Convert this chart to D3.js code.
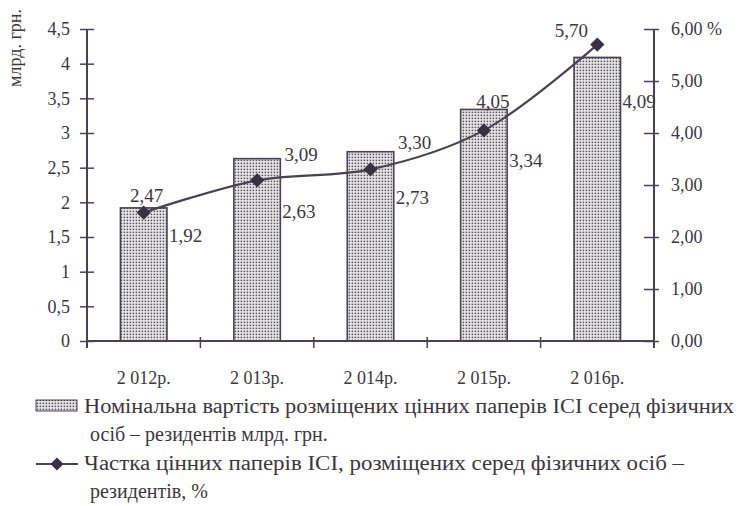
<!DOCTYPE html>
<html>
<head>
<meta charset="utf-8">
<script src="https://cdn.jsdelivr.net/npm/d3@7"></script>
<style>
  body { margin: 0; background: #fff; }
  svg text { font-family: "Liberation Serif", "DejaVu Serif", serif; }
</style>
</head>
<body>
<div id="chart"></div>
<script>
// data
var years = ["2 012р.", "2 013р.", "2 014р.", "2 015р.", "2 016р."];
var nominal = [1.92, 2.63, 2.73, 3.34, 4.09];   // млрд. грн.
var share = [2.47, 3.09, 3.30, 4.05, 5.70];     // %
var leftTicks = [0, 0.5, 1, 1.5, 2, 2.5, 3, 3.5, 4, 4.5];
var leftTickLabels = ["0", "0,5", "1", "1,5", "2", "2,5", "3", "3,5", "4", "4,5"];
var rightTicks = [0, 1, 2, 3, 4, 5, 6];
var rightTickLabels = ["0,00", "1,00", "2,00", "3,00", "4,00", "5,00", "6,00 %"];
var nominalLabels = ["1,92", "2,63", "2,73", "3,34", "4,09"];
var shareLabels = ["2,47", "3,09", "3,30", "4,05", "5,70"];
var legendBar = ["Номінальна вартість розміщених цінних паперів ICI серед фізичних", "осіб – резидентів млрд. грн."];
var legendLine = ["Частка цінних паперів ICI, розміщених серед фізичних осіб –", "резидентів, %"];

// hand placed label offsets, like the original
var barLabelDy = [27, 53, 46, 51, 44];
var lineLabelOff = [[3, -17], [44, -26], [44, -27], [9, -29], [-26, -14]];

var W = 741, H = 506;
var pLeft = 87, pRight = 654, pTop = 29, pBottom = 341;
var ink = "#4a4252", txt = "#3c3640";

var svg = d3.select("#chart").append("svg")
    .attr("width", W)
    .attr("height", H);

var defs = svg.append("defs");
var pat = defs.append("pattern")
    .attr("id", "dots")
    .attr("patternUnits", "userSpaceOnUse")
    .attr("width", 3)
    .attr("height", 3);
pat.append("rect").attr("width", 3).attr("height", 3).attr("fill", "#eeeeee");
pat.append("rect").attr("x", 0.6).attr("y", 0.6).attr("width", 1.6).attr("height", 1.6).attr("fill", "#55505a");

var x = d3.scaleBand()
    .domain(years)
    .range([pLeft, pRight])
    .paddingInner(0.59)
    .paddingOuter(0.295);

var xOuter = d3.scaleBand().domain(years).range([pLeft, pRight]).padding(0);

var yL = d3.scaleLinear().domain([0, 4.5]).range([pBottom, pTop]);
var yR = d3.scaleLinear().domain([0, 6]).range([pBottom, pTop]);

// bars
svg.selectAll("rect.bar").data(nominal)
  .enter().append("rect")
    .attr("class", "bar")
    .attr("x", function(d, i) { return x(years[i]); })
    .attr("y", function(d) { return yL(d); })
    .attr("width", x.bandwidth())
    .attr("height", function(d) { return pBottom - yL(d); })
    .attr("fill", "url(#dots)")
    .attr("stroke", ink)
    .attr("stroke-width", 1.6);

// left axis
var axL = svg.append("g")
    .attr("transform", "translate(" + pLeft + ",0)")
    .call(d3.axisLeft(yL).tickValues(leftTicks)
      .tickFormat(function(d, i) { return leftTickLabels[i]; })
      .tickSizeInner(7).tickSizeOuter(0).tickPadding(10));
axL.select(".domain").attr("stroke", ink).attr("stroke-width", 2)
    .attr("d", "M0," + pTop + "V" + (pBottom + 7));
axL.selectAll(".tick line").attr("stroke", ink).attr("stroke-width", 1.5).attr("x2", 7).attr("x1", -7);
axL.selectAll(".tick text").attr("fill", txt).style("font-size", "18px");

// right axis
var axR = svg.append("g")
    .attr("transform", "translate(" + pRight + ",0)")
    .call(d3.axisRight(yR).tickValues(rightTicks)
      .tickFormat(function(d, i) { return rightTickLabels[i]; })
      .tickSizeInner(5).tickSizeOuter(0).tickPadding(12));
axR.select(".domain").attr("stroke", ink).attr("stroke-width", 2)
    .attr("d", "M0," + pTop + "V" + (pBottom + 7));
axR.selectAll(".tick line").attr("stroke", ink).attr("stroke-width", 1.5).attr("x1", -10).attr("x2", 5);
axR.selectAll(".tick text").attr("fill", txt).style("font-size", "18px");

// bottom axis
var axB = svg.append("g")
    .attr("transform", "translate(0," + pBottom + ")")
    .call(d3.axisBottom(x).tickSize(0).tickPadding(30));
axB.select(".domain").attr("stroke", ink).attr("stroke-width", 2)
    .attr("d", "M" + pLeft + ",0H" + pRight);
axB.selectAll(".tick text").attr("fill", txt).style("font-size", "18px");
svg.append("g").selectAll("line").data(years)
  .enter().append("line")
    .attr("x1", function(d) { return xOuter(d) + xOuter.bandwidth(); })
    .attr("x2", function(d) { return xOuter(d) + xOuter.bandwidth(); })
    .attr("y1", pBottom - 4)
    .attr("y2", pBottom + 7)
    .attr("stroke", ink)
    .attr("stroke-width", 1.5);

// y title
svg.append("text")
    .attr("transform", "translate(21,48) rotate(-90)")
    .attr("text-anchor", "middle")
    .attr("fill", txt)
    .style("font-size", "18px")
    .text("млрд. грн.");

// line
var cx = function(i) { return x(years[i]) + x.bandwidth() / 2; };
var line = d3.line()
    .x(function(d, i) { return cx(i); })
    .y(function(d) { return yR(d); })
    .curve(d3.curveCatmullRom);
svg.append("path")
    .datum(share)
    .attr("d", line)
    .attr("fill", "none")
    .attr("stroke", ink)
    .attr("stroke-width", 2.2);

svg.selectAll("path.mk").data(share)
  .enter().append("path")
    .attr("class", "mk")
    .attr("d", d3.symbol(d3.symbolDiamond2, 130))
    .attr("transform", function(d, i) { return "translate(" + cx(i) + "," + yR(d) + ")"; })
    .attr("fill", "#3a3044");

// value labels
svg.selectAll("text.bl").data(nominal)
  .enter().append("text")
    .attr("class", "bl")
    .attr("x", function(d, i) { return x(years[i]) + x.bandwidth() + 2; })
    .attr("y", function(d, i) { return yL(d) + barLabelDy[i]; })
    .attr("dy", "0.35em")
    .attr("fill", txt)
    .style("font-size", "19px")
    .text(function(d, i) { return nominalLabels[i]; });

svg.selectAll("text.ll").data(share)
  .enter().append("text")
    .attr("class", "ll")
    .attr("x", function(d, i) { return cx(i) + lineLabelOff[i][0]; })
    .attr("y", function(d, i) { return yR(d) + lineLabelOff[i][1]; })
    .attr("dy", "0.35em")
    .attr("text-anchor", "middle")
    .attr("fill", txt)
    .style("font-size", "19px")
    .text(function(d, i) { return shareLabels[i]; });

// legend (first lines are justified in the source, so stretch them a bit)
var lg = svg.append("g").style("font-size", "20px").attr("fill", txt);
lg.append("rect")
    .attr("x", 36).attr("y", 400).attr("width", 41).attr("height", 11)
    .attr("fill", "url(#dots)").attr("stroke", ink).attr("stroke-width", 1);
lg.selectAll("text.lb").data(legendBar)
  .enter().append("text")
    .attr("x", function(d, i) { return i ? 90 : 84; })
    .attr("y", function(d, i) { return 413 + i * 28; })
    .each(function(d, i) { if (!i) d3.select(this).attr("textLength", 650).attr("lengthAdjust", "spacingAndGlyphs"); })
    .text(function(d) { return d; });
lg.append("line")
    .attr("x1", 36).attr("x2", 78).attr("y1", 464).attr("y2", 464)
    .attr("stroke", ink).attr("stroke-width", 2.2);
lg.append("path")
    .attr("d", d3.symbol(d3.symbolDiamond2, 110))
    .attr("transform", "translate(57,464)")
    .attr("fill", "#3a3044");
lg.selectAll("text.ll2").data(legendLine)
  .enter().append("text")
    .attr("x", function(d, i) { return i ? 90 : 84; })
    .attr("y", function(d, i) { return 470 + i * 28; })
    .each(function(d, i) { if (!i) d3.select(this).attr("textLength", 600).attr("lengthAdjust", "spacingAndGlyphs"); })
    .text(function(d) { return d; });
</script>
</body>
</html>
